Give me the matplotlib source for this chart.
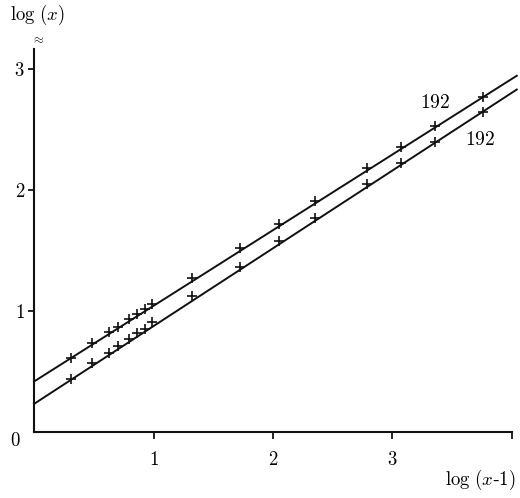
import numpy as np
import matplotlib
matplotlib.use("Agg")
import matplotlib.pyplot as plt

plt.rcParams['font.family'] = ['Liberation Serif', 'DejaVu Serif']
plt.rcParams['mathtext.fontset'] = 'cm'

# measured points, log(x-1) on x
x_pts = [0.307, 0.488, 0.630, 0.705, 0.797, 0.859, 0.929, 0.987,
         1.320, 1.724, 2.054, 2.351, 2.789, 3.069, 3.356, 3.757]
upper_pts = [0.610, 0.733, 0.825, 0.871, 0.935, 0.972, 1.020, 1.061,
             1.274, 1.523, 1.718, 1.906, 2.184, 2.355, 2.527, 2.767]
lower_pts = [0.441, 0.567, 0.653, 0.714, 0.771, 0.814, 0.854, 0.905,
             1.121, 1.362, 1.581, 1.772, 2.046, 2.221, 2.393, 2.647]

# fitted straight lines (end points)
line_x = [0.0, 4.04]
upper_line = [0.417, 2.944]
lower_line = [0.232, 2.830]

xticks = [1, 2, 3, 4]
xtick_labels = ['$1$', '$2$', '$3$', '']
yticks = [1, 2, 3]
ytick_labels = ['$1$', '$2$', '$3$']

fig = plt.figure(figsize=(5.2, 4.98), dpi=100)
ax = fig.add_axes([34/520, 66/498, 478/520, 383/498])

ax.plot(line_x, upper_line, color='#111111', lw=1.4, clip_on=False)
ax.plot(line_x, lower_line, color='#111111', lw=1.4, clip_on=False)
ax.plot(x_pts, upper_pts, '+', color='#111111', ms=7, mew=1.2, clip_on=False)
ax.plot(x_pts, lower_pts, '+', color='#111111', ms=7, mew=1.2, clip_on=False)

ax.set_xlim(0, 4)
ax.set_ylim(0, 3.165)
for s in ['top', 'right']:
    ax.spines[s].set_visible(False)
for s in ['left', 'bottom']:
    ax.spines[s].set_linewidth(1.5)
    ax.spines[s].set_color('#111111')

ax.set_xticks(xticks)
ax.set_xticklabels(xtick_labels, fontsize=13.5)
ax.set_yticks(yticks)
ax.set_yticklabels(ytick_labels, fontsize=13.5)
ax.tick_params(axis='x', direction='out', length=5, width=1.2, pad=9)
ax.tick_params(axis='y', direction='out', length=4.5, width=1.2, pad=2)

ax.text(-0.16, -0.074, '$0$', fontsize=13.5, ha='center', va='center', clip_on=False)
ax.text(-0.2, 3.446, r'$\log\,(x)$', fontsize=13.5, ha='left', va='center', clip_on=False)
ax.text(4.025, -0.397, r'$\log\,(x$-$1)$', fontsize=13.5, ha='right', va='center', clip_on=False)
ax.text(0.03, 3.24, r'$\approx$', fontsize=9, ha='center', va='center', clip_on=False)

ax.text(3.356, 2.72, '$192$', fontsize=14, ha='center', va='center')
ax.text(3.732, 2.413, '$192$', fontsize=14, ha='center', va='center')

fig.savefig('out.png', dpi=100)
